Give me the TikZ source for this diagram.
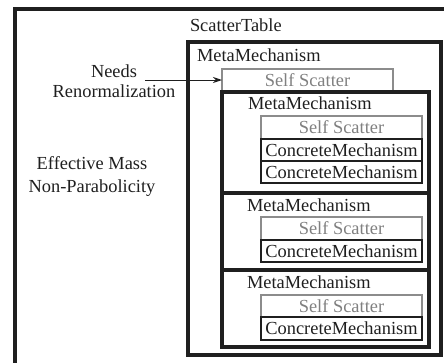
\documentclass[tikz,border=0pt]{standalone}
\usepackage{fontspec}
\setmainfont{Liberation Serif}
\usetikzlibrary{arrows.meta}
\begin{document}
\begin{tikzpicture}[x=1pt,y=-1pt,
  every node/.style={font=\fontsize{18.4}{20}\selectfont, inner sep=0pt, outer sep=0pt, text height=12.5pt, text depth=0pt},
  thickbox/.style={draw=black!88, line width=3.4pt, anchor=north west},
  thinbox/.style={draw=black!88, line width=1.7pt, anchor=north west},
  graybox/.style={draw=black!45, line width=1.7pt, anchor=north west},
  lbl/.style={anchor=west, text=black!88},
  clbl/.style={text=black!88},
  glbl/.style={text=black!50}]
\useasboundingbox (0,0) rectangle (444,362);
\clip (0,0) rectangle (444,362);
% outer ScatterTable box
\node[thickbox, minimum width=460pt, minimum height=370pt] (outer) at (15,9) {};
\node[lbl] (st) at (190,25) {ScatterTable};
% level 1
\node[thickbox, minimum width=253pt, minimum height=313pt] (l1) at (188,42) {};
\node[lbl] (m1) at (197,55) {MetaMechanism};
\node[graybox, minimum width=171pt, minimum height=22pt] (ss1) at (222,69) {};
\node[glbl] (tss1) at (ss1.center) {Self Scatter};
% level 2 boxes
\node[thickbox, minimum width=207pt, minimum height=101pt] (l2a) at (222,92) {};
\node[thickbox, minimum width=207pt, minimum height=77pt] (l2b) at (222,193) {};
\node[thickbox, minimum width=207pt, minimum height=77pt] (l2c) at (222,270) {};
\node[lbl] (m2a) at (248,103) {MetaMechanism};
\node[lbl] (m2b) at (247,205) {MetaMechanism};
\node[lbl] (m2c) at (247,282) {MetaMechanism};
% level 3 boxes (a)
\node[graybox, minimum width=161pt, minimum height=23pt] (ssa) at (261,116) {};
\node[thinbox, minimum width=161pt, minimum height=22pt] (ca1) at (261,139) {};
\node[thinbox, minimum width=161pt, minimum height=22pt] (ca2) at (261,161) {};
% level 3 boxes (b)
\node[graybox, minimum width=161pt, minimum height=23pt] (ssb) at (261,217) {};
\node[thinbox, minimum width=161pt, minimum height=22pt] (cb1) at (261,240) {};
% level 3 boxes (c)
\node[graybox, minimum width=161pt, minimum height=22pt] (ssc) at (261,295) {};
\node[thinbox, minimum width=161pt, minimum height=23pt] (cc1) at (261,317) {};
% level 3 labels
\node[glbl] (tssa) at (ssa.center) {Self Scatter};
\node[clbl] (tca1) at (ca1.center) {ConcreteMechanism};
\node[clbl] (tca2) at (ca2.center) {ConcreteMechanism};
\node[glbl] (tssb) at (ssb.center) {Self Scatter};
\node[clbl] (tcb1) at (cb1.center) {ConcreteMechanism};
\node[glbl] (tssc) at (ssc.center) {Self Scatter};
\node[clbl] (tcc1) at (cc1.center) {ConcreteMechanism};
% left labels
\node[clbl] (needs) at (114,71) {Needs};
\node[clbl] (renorm) at (114,91) {Renormalization};
\node[clbl] (eff) at (92,163) {Effective Mass};
\node[clbl] (nonp) at (92,186) {Non-Parabolicity};
% arrow
\coordinate (astart) at (145,80);
\draw[line width=1pt, black!88, -{Stealth[length=9pt,width=6pt]}] (astart) -- (ss1.west);
\end{tikzpicture}
\end{document}
